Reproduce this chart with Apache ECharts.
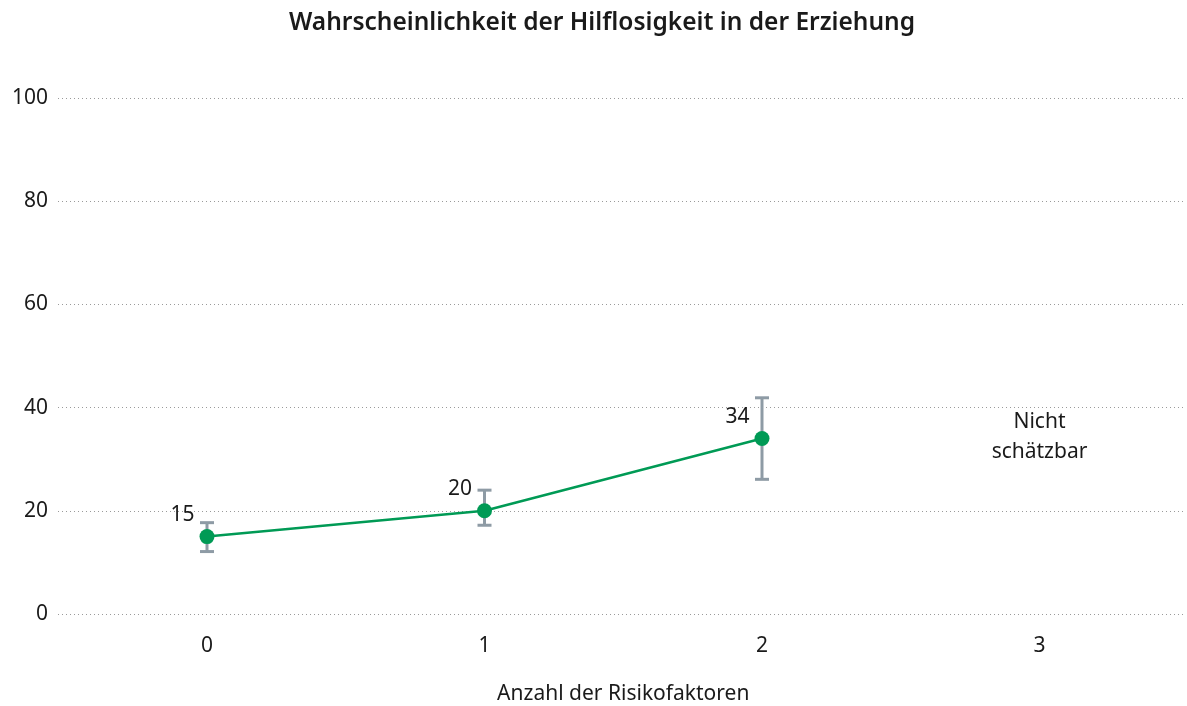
<!DOCTYPE html>
<html><head><meta charset="utf-8">
<script src="https://cdn.jsdelivr.net/npm/echarts@6/dist/echarts.min.js"></script>
<style>html,body{margin:0;padding:0;background:#fff}#c{width:1187px;height:706px}</style>
</head><body><div id="c"></div>
<script>
const categories = ['0', '1', '2', '3'];
const values = [15, 20, 34, null];
const errLow = [12.1, 17.2, 26.1, null];
const errHigh = [17.7, 24.0, 41.9, null];
const yTicks = [0, 20, 40, 60, 80, 100];
const noteText = 'Nicht\nschätzbar';
const noteValue = 34.3;

const FONT = '"Noto Sans", "Open Sans", sans-serif';
const chart = echarts.init(document.getElementById('c'));
const errData = categories.map((c, i) => errLow[i] == null ? null : [i, errLow[i], errHigh[i]]).filter(d => d);

chart.setOption({
  animation: false,
  textStyle: { fontFamily: FONT },
  title: {
    text: 'Wahrscheinlichkeit der Hilflosigkeit in der Erziehung',
    left: 284, top: 6,
    textStyle: { fontFamily: FONT, fontSize: 24.5, fontWeight: 600, color: '#1a1a1a' }
  },
  grid: [
    { left: 58, right: 1, top: 98, bottom: 92, outerBoundsMode: 'none', containLabel: false },
    { left: 68.25, right: 8.75, top: 98, bottom: 92, outerBoundsMode: 'none', containLabel: false }
  ],
  xAxis: [
    { gridIndex: 0, type: 'value', show: false, min: 0, max: 1 },
    { gridIndex: 1, type: 'category', data: categories, boundaryGap: true,
      axisLine: { show: false }, axisTick: { show: false },
      axisLabel: { fontSize: 21, color: '#1a1a1a', margin: 22, fontFamily: FONT },
      name: 'Anzahl der Risikofaktoren', nameLocation: 'middle', nameGap: 70,
      nameTextStyle: { fontSize: 21, color: '#1a1a1a', fontFamily: FONT } }
  ],
  yAxis: [
    { gridIndex: 0, type: 'value', min: 0, max: 100, interval: 20,
      axisLine: { show: false }, axisTick: { show: false },
      axisLabel: { fontSize: 21, color: '#1a1a1a', margin: 10, fontFamily: FONT,
        formatter: v => yTicks.includes(v) ? String(v) : '' },
      splitLine: { show: true, lineStyle: { type: [1, 3], color: '#9a9a9a', width: 1 } } },
    { gridIndex: 1, type: 'value', min: 0, max: 100, interval: 20, show: false,
      splitLine: { show: false } }
  ],
  series: [
    {
      type: 'custom', xAxisIndex: 1, yAxisIndex: 1, z: 2,
      data: errData,
      renderItem: function (params, api) {
        const x = api.value(0);
        const lo = api.coord([x, api.value(1)]);
        const hi = api.coord([x, api.value(2)]);
        const hw = 7;
        const st = { stroke: '#8e9ba5', lineWidth: 3 };
        return { type: 'group', children: [
          { type: 'line', shape: { x1: lo[0], y1: lo[1], x2: hi[0], y2: hi[1] }, style: st },
          { type: 'line', shape: { x1: lo[0] - hw, y1: lo[1], x2: lo[0] + hw, y2: lo[1] }, style: st },
          { type: 'line', shape: { x1: hi[0] - hw, y1: hi[1], x2: hi[0] + hw, y2: hi[1] }, style: st }
        ]};
      }
    },
    {
      type: 'line', xAxisIndex: 1, yAxisIndex: 1, z: 3,
      data: values,
      symbol: 'circle', symbolSize: 15,
      lineStyle: { color: '#009a55', width: 2.5 },
      itemStyle: { color: '#009a55' },
      label: { show: true, position: 'left', distance: 5, offset: [0, -22],
        fontSize: 21, color: '#1a1a1a', fontFamily: FONT }
    },
    {
      type: 'scatter', xAxisIndex: 1, yAxisIndex: 1, symbolSize: 1,
      data: [[3, noteValue]],
      itemStyle: { color: 'rgba(0,0,0,0)', opacity: 1 },
      label: { show: true, position: 'inside', formatter: noteText, fontSize: 21,
        lineHeight: 30, color: '#1a1a1a', align: 'center', fontFamily: FONT }
    }
  ]
});
</script></body></html>
